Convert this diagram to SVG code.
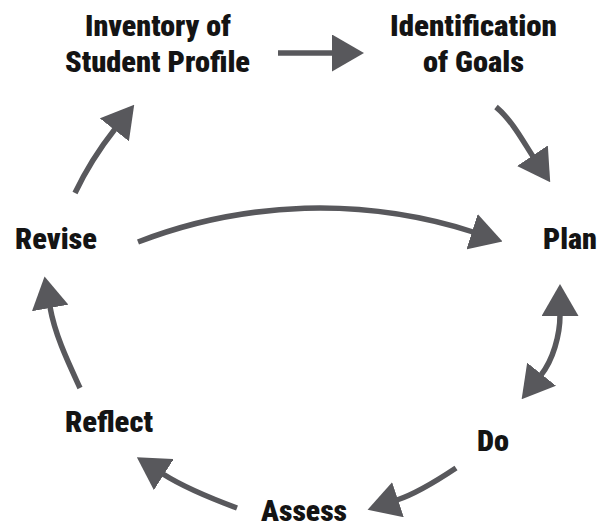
<svg xmlns="http://www.w3.org/2000/svg" width="598" height="526" viewBox="0 0 598 526">
<defs>
<style>
.lbl{font-family:"Liberation Sans Narrow","Roboto Condensed","Roboto","DejaVu Sans Condensed","Liberation Sans",sans-serif;font-weight:900;font-size:29px;fill:#141414}
.arr{fill:none;stroke:#58585c;stroke-width:5.5;stroke-linecap:butt}
</style>
<marker id="head" markerUnits="userSpaceOnUse" markerWidth="32" markerHeight="37" viewBox="0 0 32 37" refX="1" refY="18.5" orient="auto-start-reverse">
<path d="M0,0 L32,18.5 L0,37 Z" fill="#58585c"/>
</marker>
</defs>
<rect width="598" height="526" fill="#ffffff"/>
<g id="connectors">
<path class="arr" d="M278,53 L333,53" marker-end="url(#head)"/>
<path class="arr" d="M496,107 C512,120 524,143 533,156.5" marker-end="url(#head)"/>
<path class="arr" d="M138,242 A504,504 0 0 1 473,232" marker-end="url(#head)"/>
<path class="arr" d="M560,315 C560,335 553,360 541,375" marker-start="url(#head)" marker-end="url(#head)"/>
<path class="arr" d="M456,468 C435,482 415,494 397,500" marker-end="url(#head)"/>
<path class="arr" d="M237,508 C210,498 185,488 163,474" marker-end="url(#head)"/>
<path class="arr" d="M80,388 C68,362 55,335 50,307" marker-end="url(#head)"/>
<path class="arr" d="M75,193 C85,172 100,148 115,129" marker-end="url(#head)"/>
</g>
<g id="inventory">
<text class="lbl" x="85" y="36" textLength="146" lengthAdjust="spacingAndGlyphs">Inventory of</text>
<text class="lbl" x="65" y="72" textLength="185" lengthAdjust="spacingAndGlyphs">Student Profile</text>
</g>
<g id="goals">
<text class="lbl" x="390" y="36" textLength="167" lengthAdjust="spacingAndGlyphs">Identification</text>
<text class="lbl" x="423" y="72" textLength="101" lengthAdjust="spacingAndGlyphs">of Goals</text>
</g>
<g id="plan">
<text class="lbl" x="543" y="249" textLength="54" lengthAdjust="spacingAndGlyphs">Plan</text>
</g>
<g id="do">
<text class="lbl" x="477" y="451" textLength="32" lengthAdjust="spacingAndGlyphs">Do</text>
</g>
<g id="assess">
<text class="lbl" x="261" y="521" textLength="86" lengthAdjust="spacingAndGlyphs">Assess</text>
</g>
<g id="reflect">
<text class="lbl" x="65" y="432" textLength="88" lengthAdjust="spacingAndGlyphs">Reflect</text>
</g>
<g id="revise">
<text class="lbl" x="15" y="249" textLength="82" lengthAdjust="spacingAndGlyphs">Revise</text>
</g>
</svg>
